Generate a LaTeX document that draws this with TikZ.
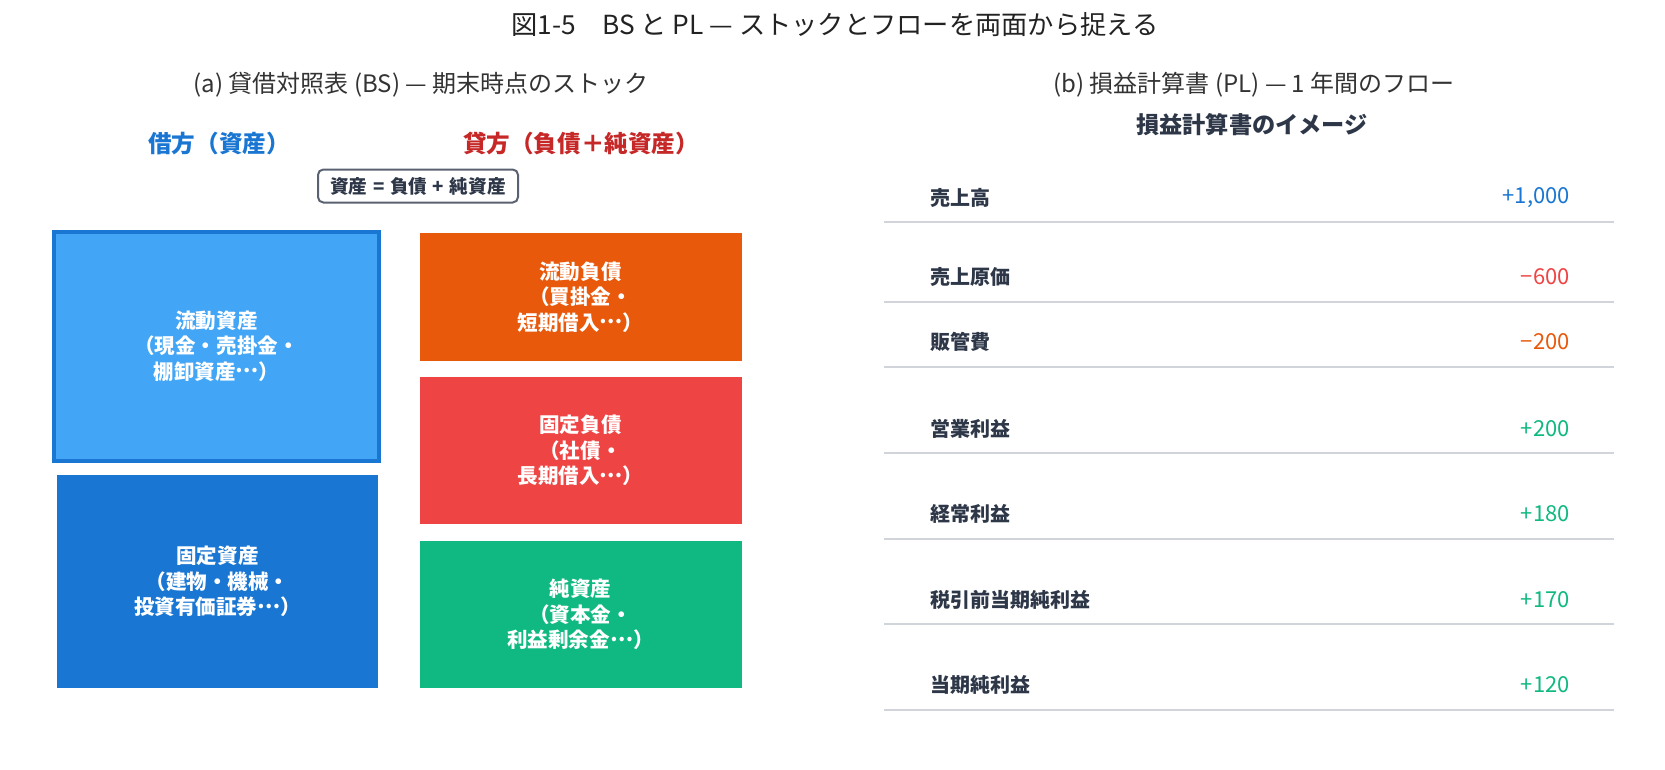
\documentclass[tikz,border=0pt]{standalone}
\usepackage{fontspec}
\setmainfont{Noto Sans CJK JP}
\definecolor{ttl}{HTML}{222222}
\definecolor{sub}{HTML}{333333}
\definecolor{lbl}{HTML}{2D3748}
\definecolor{blueL}{HTML}{42A5F5}
\definecolor{blueD}{HTML}{1976D2}
\definecolor{orangeC}{HTML}{E8590C}
\definecolor{redC}{HTML}{EF4444}
\definecolor{greenC}{HTML}{10B981}
\definecolor{redH}{HTML}{C62828}
\definecolor{eqb}{HTML}{5A6272}
\definecolor{rule}{HTML}{D1D5DB}
\newcommand{\midell}{\raisebox{0.32em}{…}}
\newcommand{\eqsp}{\hspace{0.3em}}
\tikzset{
  titletext/.style={font=\fontsize{19.7pt}{23pt}\selectfont, text=ttl},
  subtext/.style={font=\fontsize{18pt}{21pt}\selectfont, text=sub},
  headtext/.style={font=\bfseries\fontsize{17.7pt}{21pt}\selectfont},
  blockbox/.style={text=white, align=center, inner sep=0pt, font=\bfseries\fontsize{15.4pt}{19.2pt}\selectfont},
  eqbox/.style={draw=eqb, line width=1.5pt, rounded corners=4pt, fill=white, text=lbl, inner sep=0pt, minimum width=150pt, minimum height=24.75pt, font=\bfseries\fontsize{14pt}{17pt}\selectfont},
  pllabel/.style={anchor=west, text=lbl, inner sep=0pt, font=\bfseries\fontsize{15pt}{18pt}\selectfont},
  plvalue/.style={anchor=east, inner sep=0pt, font=\fontsize{16.5pt}{19pt}\selectfont},
  plrule/.style={draw=rule, line width=1.2pt}
}
\begin{document}
\begin{tikzpicture}[x=0.75pt,y=-0.75pt]
\useasboundingbox (0,0) rectangle (1665,769);
\fill[white] (0,0) rectangle (1665,769);

\node[titletext] (title) at (835,25) {図1-5　BS と PL — ストックとフローを両面から捉える};
\node[subtext] (suba) at (421,85) {(a) 貸借対照表 (BS) — 期末時点のストック};
\node[subtext] (subb) at (1254,85) {(b) 損益計算書 (PL) — 1 年間のフロー};
\node[headtext, text=lbl, font=\bfseries\fontsize{17.4pt}{21pt}\selectfont] (plhead) at (1252,125) {損益計算書のイメージ};

\node[headtext, text=blueD] (debit) at (219,144) {借方（資産）};
\node[headtext, text=redH] (credit) at (581,144) {貸方（負債＋純資産）};
\node[eqbox] (eq) at (418,186) {資産\eqsp{}=\eqsp{}負債\eqsp{}+\eqsp{}純資産};

\node[blockbox, fill=blueL, draw=blueD, line width=3pt, minimum width=243.75pt, minimum height=171.75pt] (ca) at (216.5,346) {流動資産\\（現金・売掛金・\\棚卸資産\midell{}）};
\node[blockbox, fill=blueD, minimum width=240.75pt, minimum height=159.75pt] (fa) at (217.5,581.5) {固定資産\\（建物・機械・\\投資有価証券\midell{}）};
\node[blockbox, fill=orangeC, minimum width=241.5pt, minimum height=96pt] (cl) at (580.5,297) {流動負債\\（買掛金・\\短期借入\midell{}）};
\node[blockbox, fill=redC, minimum width=241.5pt, minimum height=110.25pt] (fl) at (580.5,450.5) {固定負債\\（社債・\\長期借入\midell{}）};
\node[blockbox, fill=greenC, minimum width=241.5pt, minimum height=110.25pt] (na) at (580.5,614.5) {純資産\\（資本金・\\利益剰余金\midell{}）};

\foreach \n/\ty/\ly/\lab/\val/\col in {
  r1/198/222/売上高/+1{,}000/blueD,
  r2/277/302/売上原価/−600/redC,
  r3/342/367/販管費/−200/orangeC,
  r4/429/453/営業利益/+200/greenC,
  r5/514/539/経常利益/+180/greenC,
  r6/600/624/税引前当期純利益/+170/greenC,
  r7/685/710/当期純利益/+120/greenC}{
  \node[pllabel] (\n l) at (930,\ty) {\lab};
  \node[plvalue, text=\col] (\n v) at (1570,\ty) {\val};
  \coordinate (\n a) at (884,\ly);
  \coordinate (\n b) at (1614,\ly);
  \draw[plrule] (\n a) -- (\n b);
}
\end{tikzpicture}
\end{document}
